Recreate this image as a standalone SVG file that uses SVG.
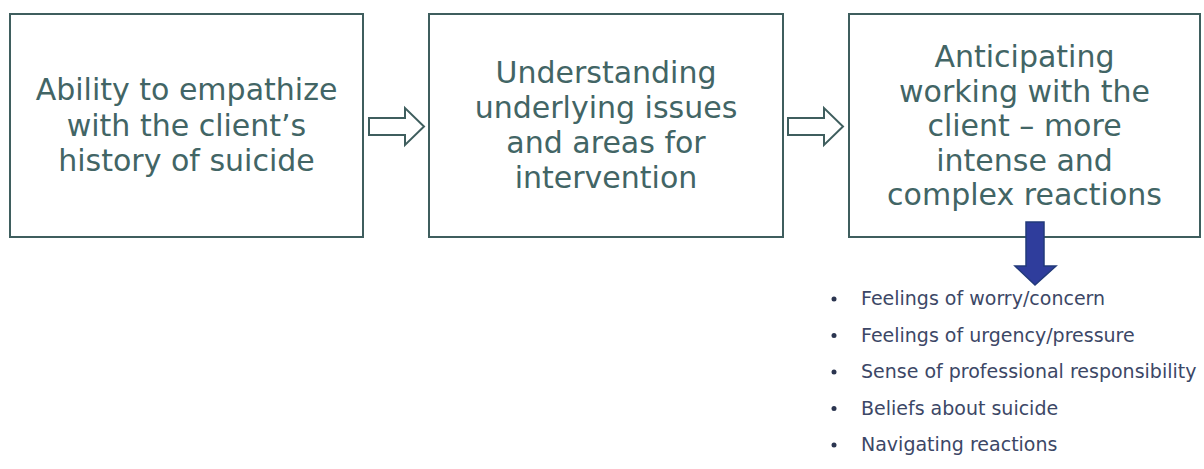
<svg xmlns="http://www.w3.org/2000/svg" width="1204" height="469" viewBox="0 0 1204 469">
  <style>
    .box { fill: #ffffff; stroke: #3f5e5e; stroke-width: 2; }
    .label { font-family: "DejaVu Sans", "Liberation Sans", sans-serif; font-size: 30px; fill: #426565; text-anchor: middle; }
    .flow { fill: #ffffff; stroke: #3f5e5e; stroke-width: 2; stroke-linejoin: miter; }
    .down { fill: #2f3d9c; stroke: #223a7a; stroke-width: 1.5; }
    .item { font-family: "DejaVu Sans", "Liberation Sans", sans-serif; font-size: 19px; fill: #3c4766; }
    .dot { fill: #2b3550; }
  </style>
  <rect width="1204" height="469" fill="#ffffff"/>

  <!-- step 1 -->
  <g id="node-empathize">
    <rect class="box" x="10" y="14" width="353" height="223"/>
    <text class="label" x="186.5" y="100">Ability to empathize</text>
    <text class="label" x="186.5" y="136">with the client’s</text>
    <text class="label" x="186.5" y="171">history of suicide</text>
  </g>

  <!-- step 2 -->
  <g id="node-understanding">
    <rect class="box" x="429" y="14" width="354" height="223"/>
    <text class="label" x="606" y="83">Understanding</text>
    <text class="label" x="606" y="118">underlying issues</text>
    <text class="label" x="606" y="153">and areas for</text>
    <text class="label" x="606" y="188">intervention</text>
  </g>

  <!-- step 3 -->
  <g id="node-anticipating">
    <rect class="box" x="849" y="14" width="351" height="223"/>
    <text class="label" x="1024.5" y="67">Anticipating</text>
    <text class="label" x="1024.5" y="101.5">working with the</text>
    <text class="label" x="1024.5" y="136">client – more</text>
    <text class="label" x="1024.5" y="170.5">intense and</text>
    <text class="label" x="1024.5" y="205">complex reactions</text>
  </g>

  <!-- connectors -->
  <g id="connectors">
    <polygon class="flow" points="369,118 405,118 405,108 424,126.5 405,145 405,135 369,135"/>
    <polygon class="flow" points="788,118 824,118 824,108 843,126.5 824,145 824,135 788,135"/>
    <polygon class="down" points="1026,222 1044,222 1044,266 1056,266 1035,285 1015,266 1026,266"/>
  </g>

  <!-- reactions list -->
  <g id="node-reactions">
    <circle class="dot" cx="834" cy="299" r="2.5"/>
    <text class="item" x="861" y="305">Feelings of worry/concern</text>
    <circle class="dot" cx="834" cy="335.5" r="2.5"/>
    <text class="item" x="861" y="341.5">Feelings of urgency/pressure</text>
    <circle class="dot" cx="834" cy="372" r="2.5"/>
    <text class="item" x="861" y="378">Sense of professional responsibility</text>
    <circle class="dot" cx="834" cy="408.5" r="2.5"/>
    <text class="item" x="861" y="414.5">Beliefs about suicide</text>
    <circle class="dot" cx="834" cy="445" r="2.5"/>
    <text class="item" x="861" y="451">Navigating reactions</text>
  </g>
</svg>
